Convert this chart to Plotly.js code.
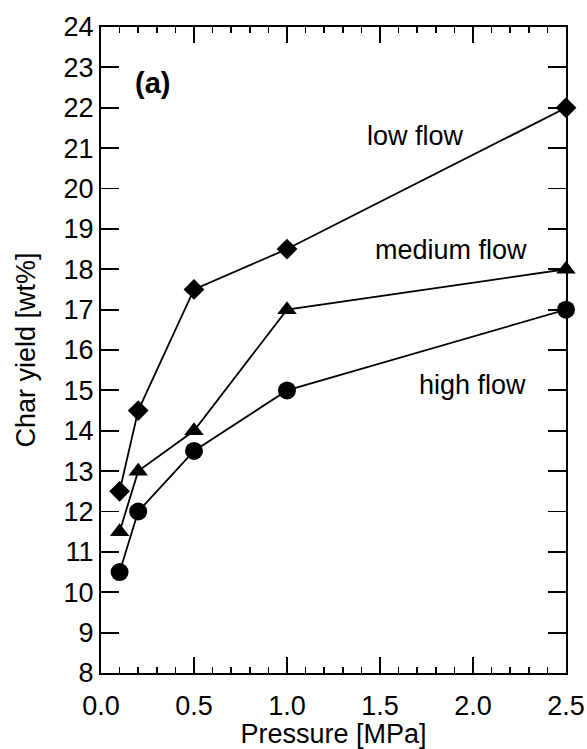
<!DOCTYPE html>
<html><head><meta charset="utf-8">
<script src="https://cdn.plot.ly/plotly-3.0.1.min.js"></script>
<style>body{margin:0;background:#fff}#c{width:587px;height:749px}</style>
</head><body><div id="c"></div>
<script>
const pressure = [0.1, 0.2, 0.5, 1.0, 2.5];
const lowFlow = [12.5, 14.5, 17.5, 18.5, 22.0];
const mediumFlow = [11.5, 13.0, 14.0, 17.0, 18.0];
const highFlow = [10.5, 12.0, 13.5, 15.0, 17.0];
const seriesLabels = ["low flow", "medium flow", "high flow"];

const fam = "'Liberation Sans', Arial, Helvetica, sans-serif";
const fnt = {family: fam, size: 27, color: "#000"};
function tr(y, sym, sz) {
  return {x: pressure, y: y, mode: "lines+markers", type: "scatter", cliponaxis: false,
    line: {color: "#000", width: 1.8},
    marker: {symbol: sym, size: sz, color: "#000"}, showlegend: false};
}
const data = [tr(lowFlow, "diamond", 16), tr(mediumFlow, "triangle-up", 17), tr(highFlow, "circle", 18)];
const layout = {
  width: 587, height: 749,
  margin: {l: 101, r: 21, t: 27, b: 76},
  paper_bgcolor: "#fff", plot_bgcolor: "#fff",
  font: fnt,
  xaxis: {range: [0, 2.5], dtick: 0.5, tick0: 0, tickformat: ".1f",
    ticks: "inside", ticklen: 16, tickwidth: 1.8, tickcolor: "#000",
    minor: {dtick: 0.1, ticks: "inside", ticklen: 6, tickwidth: 1.5, tickcolor: "#000"},
    showline: true, linewidth: 2, linecolor: "#000", mirror: "allticks",
    showgrid: false, zeroline: false, tickfont: fnt, ticklabelstandoff: 8, automargin: false,
    title: {text: "Pressure [MPa]", font: fnt, standoff: 0}},
  yaxis: {range: [8, 24], dtick: 1, tick0: 8,
    ticks: "inside", ticklen: 18, tickwidth: 1.8, tickcolor: "#000",
    showline: true, linewidth: 2, linecolor: "#000", mirror: "allticks",
    showgrid: false, zeroline: false, tickfont: fnt, automargin: false,
    title: {text: "Char yield [wt%]", font: fnt, standoff: 20}},
  annotations: [
    {x: 0.17, y: 22.61, xanchor: "left", yanchor: "middle", text: "<b>(a)</b>", showarrow: false, font: {family: fam, size: 29, color: "#000"}},
    {x: 1.42, y: 21.3, xanchor: "left", yanchor: "middle", text: seriesLabels[0], showarrow: false, font: fnt},
    {x: 1.46, y: 18.48, xanchor: "left", yanchor: "middle", text: seriesLabels[1], showarrow: false, font: fnt},
    {x: 1.70, y: 15.13, xanchor: "left", yanchor: "middle", text: seriesLabels[2], showarrow: false, font: fnt}
  ]
};
Plotly.newPlot("c", data, layout, {displayModeBar: false, staticPlot: true});
</script></body></html>
